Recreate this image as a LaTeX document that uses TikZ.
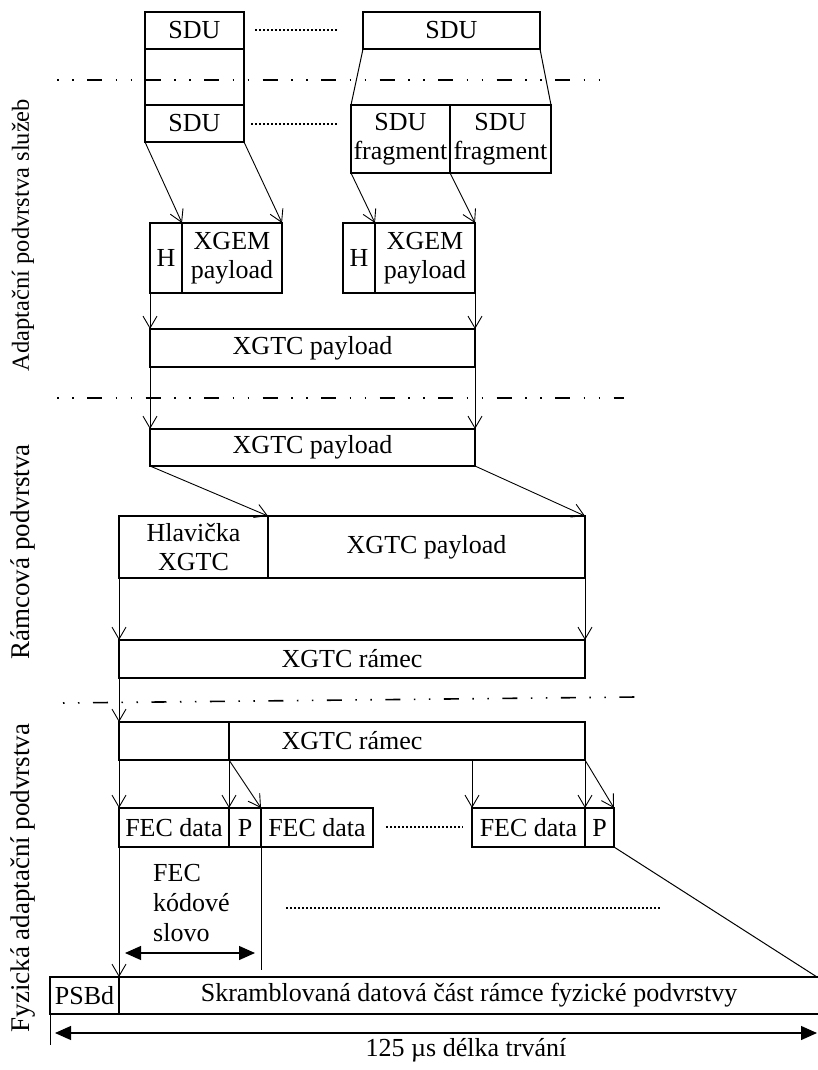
\documentclass[tikz,border=0pt]{standalone}
\usepackage{fontspec}
\setmainfont{Liberation Serif}
\usetikzlibrary{arrows.meta,calc}
\newcommand\mybox[6]{\node[box,minimum width={(#4)-(#2)},minimum height={(#5)-(#3)}] (#1) at (#2,#3) {#6};}
\begin{document}
\begin{tikzpicture}[x=1pt,y=-1pt,
  font=\fontsize{26}{29}\selectfont,
  box/.style={draw, line width=1.2pt, inner sep=0pt, outer sep=0pt, align=center, anchor=north west},
  arr/.style={line width=0.9pt, -{Straight Barb[length=12pt,width=14pt,line width=0.9pt]}},
  plain/.style={line width=1pt},
  dbl/.style={line width=1.2pt, {Triangle[length=16pt,width=14pt]}-{Triangle[length=16pt,width=14pt]}},
  dotline/.style={line width=1.2pt, dash pattern=on 2pt off 2pt},
  dashdot/.style={line width=1.6pt, dash pattern=on 1.5pt off 13.5pt on 1.5pt off 13.5pt on 15pt off 13.5pt},
  sidelabel/.style={rotate=90, inner sep=0pt}
]
\useasboundingbox (0,0) rectangle (817,1070);

% --- layer separators
\draw[dashdot] (57,80) -- (608,80);
\draw[dashdot] (57,398) -- (624,398);
\draw[dashdot] (63,703) -- (636,697);

% --- side labels
\node[sidelabel, font=\fontsize{24.5}{28}\selectfont] (lab1) at (23,235) {Adaptační podvrstva služeb};
\node[sidelabel, font=\fontsize{27}{30}\selectfont] (lab2) at (23,552) {Rámcová podvrstva};
\node[sidelabel, font=\fontsize{27}{30}\selectfont] (lab3) at (23,878) {Fyzická adaptační podvrstva};

% --- SDU layer
\mybox{sduA}{145}{12}{244}{49}{SDU}
\mybox{sduE}{145}{49}{244}{105}{}
\mybox{sduB}{145}{105}{244}{142}{SDU}
\mybox{sduC}{363}{12}{540}{49}{SDU}
\mybox{fragA}{351}{105}{450}{173}{SDU\\fragment}
\mybox{fragB}{450}{105}{551}{173}{SDU\\fragment}
\draw[dotline] (255,30) -- (338,30);
\draw[dotline] (251,124) -- (337,124);
\draw[plain] (sduC.south west) -- (fragA.north west);
\draw[plain] (sduC.south east) -- (fragB.north east);

% --- XGEM frames
\mybox{hA}{150}{223}{182}{293}{H}
\mybox{pA}{182}{223}{282}{293}{XGEM\\payload}
\mybox{hB}{343}{223}{375}{293}{H}
\mybox{pB}{375}{223}{475}{293}{XGEM\\payload}
\draw[arr] (sduB.south west) -- (pA.north west);
\draw[arr] (sduB.south east) -- (pA.north east);
\draw[arr] (fragA.south west) -- (pB.north west);
\draw[arr] (fragA.south east) -- (pB.north east);

% --- XGTC payload
\mybox{xp1}{150}{329}{475}{367}{XGTC payload}
\draw[arr] (hA.south west) -- (xp1.north west);
\draw[arr] (pB.south east) -- (xp1.north east);
\mybox{xp2}{150}{429}{475}{466}{XGTC payload}
\draw[arr] (xp1.south west) -- (xp2.north west);
\draw[arr] (xp1.south east) -- (xp2.north east);

% --- framing sublayer
\mybox{hlav}{119}{516}{268}{578}{Hlavička\\XGTC}
\mybox{xp3}{268}{516}{585}{578}{XGTC payload}
\draw[arr] (xp2.south west) -- (xp3.north west);
\draw[arr] (xp2.south east) -- (xp3.north east);
\mybox{ram1}{119}{640}{585}{678}{XGTC rámec}
\draw[arr] (hlav.south west) -- (ram1.north west);
\draw[arr] (xp3.south east) -- (ram1.north east);

% --- PHY adaptation sublayer
\mybox{ram2}{119}{722}{585}{760}{XGTC rámec}
\draw[arr] (ram1.south west) -- (ram2.north west);
\mybox{fec1}{119}{808}{229}{847}{FEC data}
\mybox{p1}{229}{808}{261}{847}{P}
\mybox{fec2}{261}{808}{373}{847}{FEC data}
\mybox{fec3}{472}{808}{585}{847}{FEC data}
\mybox{p2}{585}{808}{614}{847}{P}
\draw[line width=1.2pt] (ram2.north -| p1.west) -- (ram2.south -| p1.west);
\draw[dotline] (386,827) -- (463,827);
\draw[arr] (ram2.south west) -- (fec1.north west);
\draw[arr] (ram2.south -| p1.west) -- (p1.north west);
\draw[arr] (ram2.south -| p1.west) -- (p1.north east);
\draw[arr] (ram2.south -| fec3.west) -- (fec3.north west);
\draw[arr] (ram2.south east) -- (fec3.north east);
\draw[arr] (ram2.south east) -- (p2.north east);

\draw[plain] (p1.south east) -- ++(0,123);
\node[align=left, anchor=west, inner sep=0pt, font=\fontsize{26}{30}\selectfont] (fectxt) at (153,903) {FEC\\kódové\\slovo};
\coordinate (cwL) at (125,953);
\coordinate (cwR) at (255,953);
\draw[dbl] (cwL) -- (cwR);
\draw[dotline] (286,908) -- (660,908);

\mybox{psbd}{50}{977}{119}{1014}{PSBd}
\mybox{skr}{119}{977}{819}{1014}{Skramblovaná datová část rámce fyzické podvrstvy}
\draw[arr] (fec1.south west) -- (skr.north west);
\draw[plain] (p2.south east) -- (817,977);
\draw[plain] (psbd.south west) -- ++(0,31);
\coordinate (dL) at (55,1033);
\coordinate (dR) at (817,1033);
\draw[dbl] (dL) -- (dR);
\node (dur) at (466,1050) {125 µs délka trvání};
\end{tikzpicture}
\end{document}
